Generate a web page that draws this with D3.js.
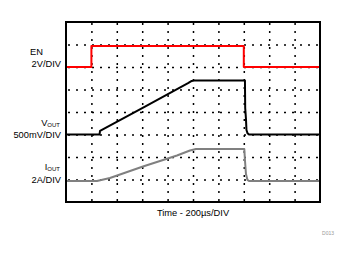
<!DOCTYPE html>
<html lang="en">
<head>
  <meta charset="UTF-8">
  <title>EN / VOUT / IOUT scope capture</title>
  <script src="https://cdnjs.cloudflare.com/ajax/libs/d3/7.8.5/d3.min.js"></script>
  <style>
    body { margin: 0; padding: 0; background: #fff; }
    svg { display: block; font-family: "Liberation Sans", Arial, sans-serif; }
  </style>
</head>
<body>
<svg id="chart" width="349" height="254"></svg>
<script>
  // time base: 10 divisions of 200 µs, 8 vertical divisions
  const timeDomain = [0, 2000];
  const divDomain = [0, 8];
  const xGrid = [200, 400, 600, 800, 1000, 1200, 1400, 1600, 1800];
  const yGrid = [1, 2, 3, 4, 5, 6, 7];

  // EN, 2 V/div, ground at division 6
  const enTime = [0, 200, 200, 1400, 1400, 2000];
  const enVolts = [0, 0, 1.87, 1.87, 0, 0];

  // VOUT, 500 mV/div, ground at division 3
  const voutTime = [0, 264, 268, 622, 961, 990, 1008, 1409, 1411, 1417, 1421, 1429, 1441, 2000];
  const voutVolts = [0, 0, 0.08, 0.62, 1.14, 1.19, 1.2, 1.2, 0.59, 0.35, 0.1, 0.03, 0, 0];

  // IOUT, 2 A/div, zero at division 1
  const ioutTime = [0, 244, 346, 606, 874, 976, 1024, 1404, 1409, 1417, 1429, 1441, 2000];
  const ioutAmps = [-0.13, -0.13, 0.13, 1.16, 2.13, 2.58, 2.71, 2.71, 1.73, 0.49, -0.04, -0.13, -0.13];

  const svg = d3.select("#chart");
  const frame = { left: 66, right: 320, top: 22, bottom: 202 };

  const x = d3.scaleLinear().domain(timeDomain).range([frame.left, frame.right]);
  const y = d3.scaleLinear().domain(divDomain).range([frame.bottom, frame.top]);

  // dotted graticule
  svg.append("g")
    .attr("transform", `translate(0,${frame.bottom})`)
    .call(d3.axisBottom(x).tickValues(xGrid).tickSize(-(frame.bottom - frame.top)).tickFormat(""))
    .call(g => g.select(".domain").remove())
    .call(g => g.selectAll("line")
      .attr("stroke", "#000")
      .attr("stroke-width", 1.5)
      .attr("stroke-dasharray", "2,6")
      .attr("stroke-dashoffset", -1));

  svg.append("g")
    .attr("transform", `translate(${frame.left},0)`)
    .call(d3.axisLeft(y).tickValues(yGrid).tickSize(-(frame.right - frame.left)).tickFormat(""))
    .call(g => g.select(".domain").remove())
    .call(g => g.selectAll("line")
      .attr("stroke", "#000")
      .attr("stroke-width", 1.5)
      .attr("stroke-dasharray", "2,6")
      .attr("stroke-dashoffset", -2));

  function trace(times, values, offset, perDiv, color) {
    const pts = times.map((t, i) => [t, offset + values[i] / perDiv]);
    svg.append("path")
      .datum(pts)
      .attr("fill", "none")
      .attr("stroke", color)
      .attr("stroke-width", 2)
      .attr("stroke-linejoin", "round")
      .attr("d", d3.line().x(d => x(d[0])).y(d => y(d[1])));
  }

  trace(ioutTime, ioutAmps, 1, 2, "#808080");
  trace(voutTime, voutVolts, 3, 0.5, "#000");
  trace(enTime, enVolts, 6, 2, "#ff0000");

  // frame
  svg.append("rect")
    .attr("x", frame.left)
    .attr("y", frame.top)
    .attr("width", frame.right - frame.left)
    .attr("height", frame.bottom - frame.top)
    .attr("fill", "none")
    .attr("stroke", "#000")
    .attr("stroke-width", 2);

  // channel labels
  const fs = 9.3;
  svg.append("text").attr("x", 30).attr("y", 55).attr("font-size", fs).text("EN");
  svg.append("text").attr("x", 61).attr("y", 67).attr("font-size", fs)
    .attr("text-anchor", "end").text("2V/DIV");

  const vt = svg.append("text").attr("x", 60).attr("y", 126).attr("font-size", fs).attr("text-anchor", "end");
  vt.append("tspan").text("V");
  vt.append("tspan").attr("font-size", 6).attr("dy", 1).text("OUT");
  svg.append("text").attr("x", 61).attr("y", 138).attr("font-size", fs)
    .attr("text-anchor", "end").text("500mV/DIV");

  const it = svg.append("text").attr("x", 60).attr("y", 170).attr("font-size", fs).attr("text-anchor", "end");
  it.append("tspan").text("I");
  it.append("tspan").attr("font-size", 6).attr("dy", 1).text("OUT");
  svg.append("text").attr("x", 61).attr("y", 183).attr("font-size", fs)
    .attr("text-anchor", "end").text("2A/DIV");

  svg.append("text")
    .attr("x", (frame.left + frame.right) / 2)
    .attr("y", 215.5)
    .attr("font-size", fs)
    .attr("text-anchor", "middle")
    .text("Time - 200µs/DIV");

  svg.append("text")
    .attr("x", 328)
    .attr("y", 235)
    .attr("font-size", 5)
    .attr("fill", "#999")
    .attr("text-anchor", "middle")
    .text("D013");
</script>
</body>
</html>
